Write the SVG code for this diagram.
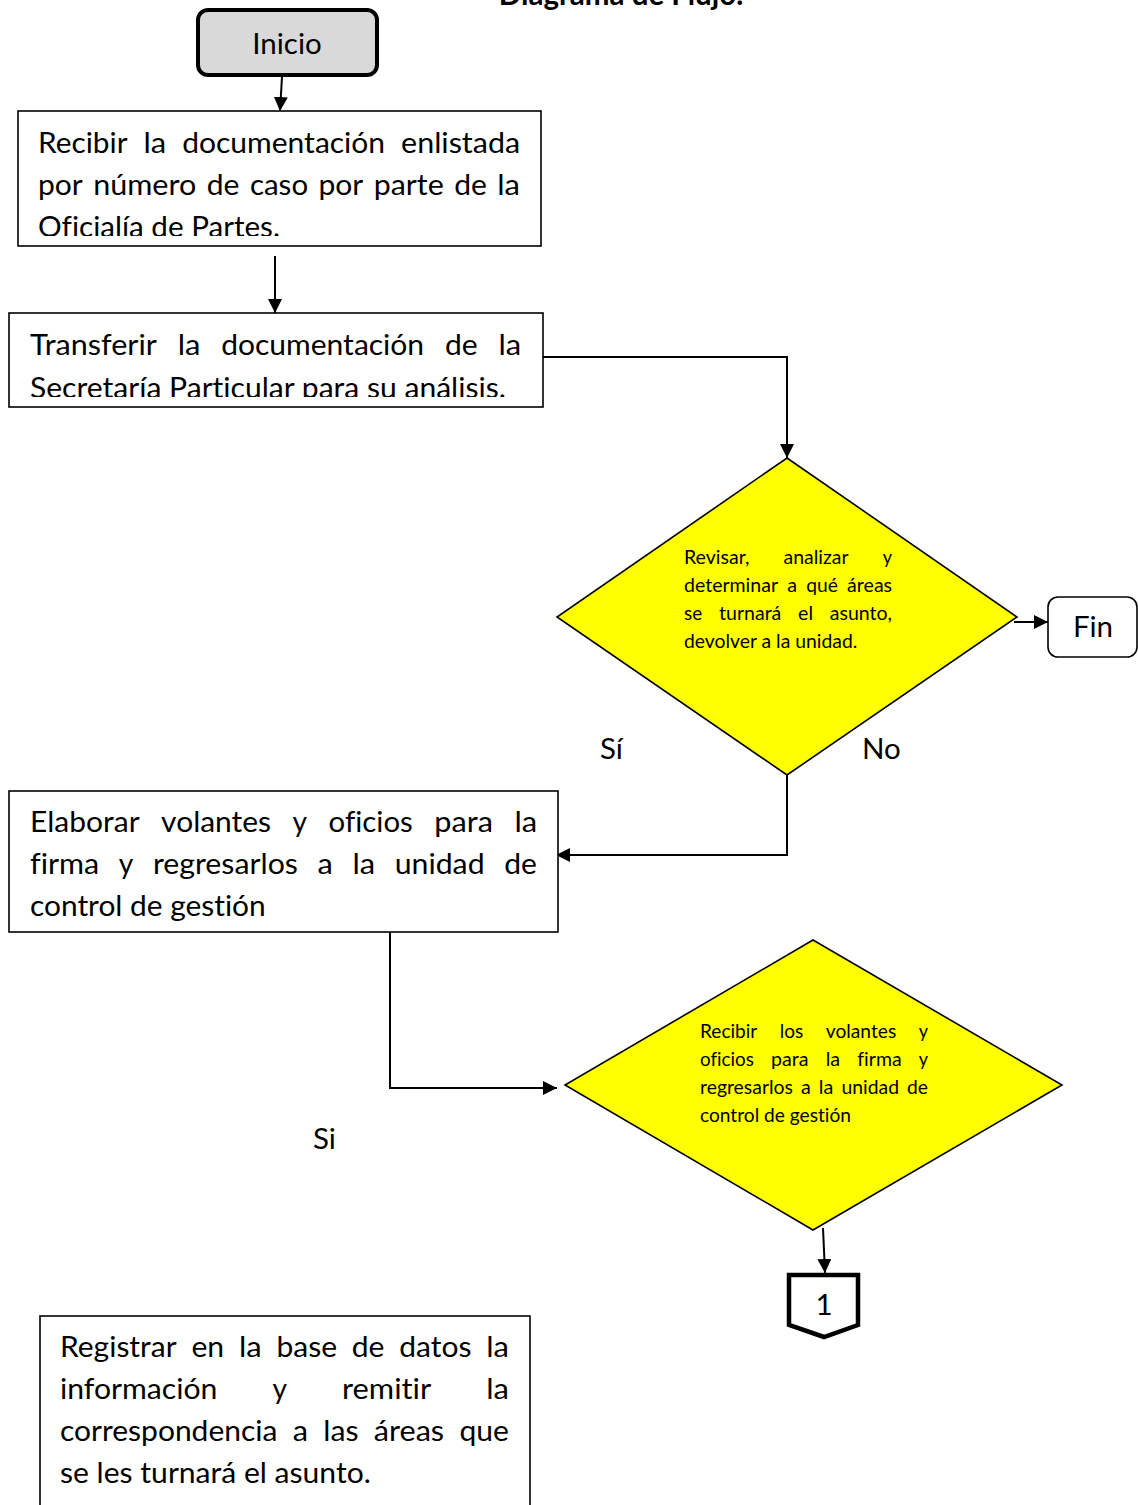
<svg xmlns="http://www.w3.org/2000/svg" width="1138" height="1505" viewBox="0 0 1138 1505">
  <style>
    text { font-variant-ligatures: none; }
    .t { font-family: Lato, "Open Sans", "Liberation Sans", sans-serif; font-size: 29.5px; fill: #000; }
    .dt { font-family: Lato, "Open Sans", "Liberation Sans", sans-serif; font-size: 19px; fill: #000; }
    .box { fill: #fff; stroke: #000; stroke-width: 1.6; }
    .dia { fill: #ffff00; stroke: #000; stroke-width: 1.6; }
    .conn { fill: none; stroke: #000; stroke-width: 2; marker-end: url(#ah); }
  </style>
  <defs>
    <marker id="ah" markerUnits="userSpaceOnUse" markerWidth="14" markerHeight="14" refX="14" refY="7" orient="auto">
      <path d="M0,0 L14,7 L0,14 z" fill="#000"/>
    </marker>
    <clipPath id="clip1"><rect x="18" y="111" width="523" height="125"/></clipPath>
    <clipPath id="clip2"><rect x="9" y="313" width="534" height="84"/></clipPath>
  </defs>

  <rect width="1138" height="1505" fill="#fff"/>

  <!-- title -->
  <text id="title" class="t" x="621" y="5" text-anchor="middle" font-weight="bold">Diagrama de Flujo.</text>

  <!-- connectors -->
  <g id="connectors">
    <path class="conn" d="M282,77 L280,111"/>
    <path class="conn" d="M275,256 L275,313"/>
    <path class="conn" d="M543,357 H787 V458"/>
    <path class="conn" d="M1014,622 H1048"/>
    <path class="conn" d="M787,762 V855 H556"/>
    <path class="conn" d="M390,932 V1088 H557"/>
    <path class="conn" d="M823,1228 L825,1273"/>
  </g>

  <!-- start -->
  <g id="inicio">
    <rect x="198" y="10" width="179" height="65" rx="10" fill="#d9d9d9" stroke="#000" stroke-width="4"/>
    <text class="t" x="287" y="54" text-anchor="middle">Inicio</text>
  </g>

  <!-- step 1 -->
  <g id="recibir">
    <rect class="box" x="18" y="111" width="523" height="135"/>
    <g clip-path="url(#clip1)">
      <text class="t" y="153"><tspan x="38" textLength="89.5" lengthAdjust="spacingAndGlyphs">Recibir</tspan><tspan x="143.5" textLength="22.7" lengthAdjust="spacingAndGlyphs">la</tspan><tspan x="182.2" textLength="202.9" lengthAdjust="spacingAndGlyphs">documentación</tspan><tspan x="401.1" textLength="119" lengthAdjust="spacingAndGlyphs">enlistada</tspan></text>
      <text class="t" y="194.5"><tspan x="38" textLength="44.8" lengthAdjust="spacingAndGlyphs">por</tspan><tspan x="93.2" textLength="103.1" lengthAdjust="spacingAndGlyphs">número</tspan><tspan x="206.7" textLength="32.7" lengthAdjust="spacingAndGlyphs">de</tspan><tspan x="249.9" textLength="58.2" lengthAdjust="spacingAndGlyphs">caso</tspan><tspan x="318.5" textLength="44.8" lengthAdjust="spacingAndGlyphs">por</tspan><tspan x="373.7" textLength="70" lengthAdjust="spacingAndGlyphs">parte</tspan><tspan x="454.2" textLength="32.7" lengthAdjust="spacingAndGlyphs">de</tspan><tspan x="497.3" textLength="22.7" lengthAdjust="spacingAndGlyphs">la</tspan></text>
      <text class="t" x="38" y="237" textLength="241.9" lengthAdjust="spacingAndGlyphs">Oficialía de Partes.</text>
    </g>
  </g>

  <!-- step 2 -->
  <g id="transferir">
    <rect class="box" x="9" y="313" width="534" height="94"/>
    <g clip-path="url(#clip2)">
      <text class="t" y="355"><tspan x="30" textLength="126.9" lengthAdjust="spacingAndGlyphs">Transferir</tspan><tspan x="177.7" textLength="22.7" lengthAdjust="spacingAndGlyphs">la</tspan><tspan x="221.2" textLength="202.9" lengthAdjust="spacingAndGlyphs">documentación</tspan><tspan x="444.9" textLength="32.7" lengthAdjust="spacingAndGlyphs">de</tspan><tspan x="498.4" textLength="22.7" lengthAdjust="spacingAndGlyphs">la</tspan></text>
      <text class="t" x="30" y="398" textLength="475.8" lengthAdjust="spacingAndGlyphs">Secretaría Particular para su análisis.</text>
    </g>
  </g>

  <!-- decision 1 -->
  <g id="revisar">
    <polygon class="dia" points="787,458 1017,617 787,775 557,617"/>
    <text class="dt" y="564"><tspan x="684" textLength="65.4" lengthAdjust="spacingAndGlyphs">Revisar,</tspan><tspan x="783.6" textLength="64.9" lengthAdjust="spacingAndGlyphs">analizar</tspan><tspan x="882.7" textLength="9.3" lengthAdjust="spacingAndGlyphs">y</tspan></text>
    <text class="dt" y="592"><tspan x="684" textLength="94" lengthAdjust="spacingAndGlyphs">determinar</tspan><tspan x="787.2" textLength="9.8" lengthAdjust="spacingAndGlyphs">a</tspan><tspan x="806.2" textLength="31.7" lengthAdjust="spacingAndGlyphs">qué</tspan><tspan x="847.1" textLength="45" lengthAdjust="spacingAndGlyphs">áreas</tspan></text>
    <text class="dt" y="620"><tspan x="684" textLength="18.2" lengthAdjust="spacingAndGlyphs">se</tspan><tspan x="719" textLength="62.3" lengthAdjust="spacingAndGlyphs">turnará</tspan><tspan x="798.1" textLength="14.9" lengthAdjust="spacingAndGlyphs">el</tspan><tspan x="829.8" textLength="62.2" lengthAdjust="spacingAndGlyphs">asunto,</tspan></text>
    <text class="dt" x="684" y="648" textLength="173.3" lengthAdjust="spacingAndGlyphs">devolver a la unidad.</text>
  </g>

  <!-- end -->
  <g id="fin">
    <rect x="1048" y="597" width="89" height="60" rx="10" fill="#fff" stroke="#000" stroke-width="1.6"/>
    <text class="t" x="1093" y="637" text-anchor="middle" font-size="26px">Fin</text>
  </g>

  <!-- branch labels -->
  <g id="labels">
    <text class="t" x="600" y="759" font-size="28px">Sí</text>
    <text class="t" x="862" y="759" font-size="28px">No</text>
    <text class="t" x="313" y="1149" font-size="28px">Si</text>
  </g>

  <!-- step 3 -->
  <g id="elaborar">
    <rect class="box" x="9" y="791" width="549" height="141"/>
    <text class="t" y="832"><tspan x="30" textLength="109.6" lengthAdjust="spacingAndGlyphs">Elaborar</tspan><tspan x="161.1" textLength="110" lengthAdjust="spacingAndGlyphs">volantes</tspan><tspan x="292.6" textLength="14.5" lengthAdjust="spacingAndGlyphs">y</tspan><tspan x="328.6" textLength="84.2" lengthAdjust="spacingAndGlyphs">oficios</tspan><tspan x="434.3" textLength="58.6" lengthAdjust="spacingAndGlyphs">para</tspan><tspan x="514.4" textLength="22.7" lengthAdjust="spacingAndGlyphs">la</tspan></text>
    <text class="t" y="874"><tspan x="30" textLength="69.2" lengthAdjust="spacingAndGlyphs">firma</tspan><tspan x="118.8" textLength="14.5" lengthAdjust="spacingAndGlyphs">y</tspan><tspan x="152.9" textLength="145" lengthAdjust="spacingAndGlyphs">regresarlos</tspan><tspan x="317.5" textLength="15.3" lengthAdjust="spacingAndGlyphs">a</tspan><tspan x="352.4" textLength="22.7" lengthAdjust="spacingAndGlyphs">la</tspan><tspan x="394.7" textLength="89.9" lengthAdjust="spacingAndGlyphs">unidad</tspan><tspan x="504.2" textLength="32.7" lengthAdjust="spacingAndGlyphs">de</tspan></text>
    <text class="t" x="30" y="916" textLength="235.7" lengthAdjust="spacingAndGlyphs">control de gestión</text>
  </g>

  <!-- decision 2 -->
  <g id="recibir-volantes">
    <polygon class="dia" points="813,940 1062,1085 813,1230 565,1085"/>
    <text class="dt" y="1038"><tspan x="700" textLength="57.3" lengthAdjust="spacingAndGlyphs">Recibir</tspan><tspan x="779.8" textLength="23.5" lengthAdjust="spacingAndGlyphs">los</tspan><tspan x="825.8" textLength="70.4" lengthAdjust="spacingAndGlyphs">volantes</tspan><tspan x="918.7" textLength="9.3" lengthAdjust="spacingAndGlyphs">y</tspan></text>
    <text class="dt" y="1066"><tspan x="700" textLength="53.9" lengthAdjust="spacingAndGlyphs">oficios</tspan><tspan x="771" textLength="37.6" lengthAdjust="spacingAndGlyphs">para</tspan><tspan x="825.7" textLength="14.5" lengthAdjust="spacingAndGlyphs">la</tspan><tspan x="857.3" textLength="44.3" lengthAdjust="spacingAndGlyphs">firma</tspan><tspan x="918.7" textLength="9.3" lengthAdjust="spacingAndGlyphs">y</tspan></text>
    <text class="dt" y="1094"><tspan x="700" textLength="92.9" lengthAdjust="spacingAndGlyphs">regresarlos</tspan><tspan x="801" textLength="9.8" lengthAdjust="spacingAndGlyphs">a</tspan><tspan x="818.8" textLength="14.5" lengthAdjust="spacingAndGlyphs">la</tspan><tspan x="841.4" textLength="57.6" lengthAdjust="spacingAndGlyphs">unidad</tspan><tspan x="907" textLength="21" lengthAdjust="spacingAndGlyphs">de</tspan></text>
    <text class="dt" x="700" y="1122" textLength="151" lengthAdjust="spacingAndGlyphs">control de gestión</text>
  </g>

  <!-- off-page connector -->
  <g id="conector-1">
    <polygon points="789,1275 858,1275 858,1325 824,1337 789,1325" fill="#fff" stroke="#000" stroke-width="4.5"/>
    <text class="t" x="824" y="1315" text-anchor="middle" font-size="24px">1</text>
  </g>

  <!-- step 4 -->
  <g id="registrar">
    <rect class="box" x="40" y="1316" width="490" height="200"/>
    <text class="t" y="1357"><tspan x="60" textLength="116.6" lengthAdjust="spacingAndGlyphs">Registrar</tspan><tspan x="191.4" textLength="32.7" lengthAdjust="spacingAndGlyphs">en</tspan><tspan x="238.9" textLength="22.7" lengthAdjust="spacingAndGlyphs">la</tspan><tspan x="276.4" textLength="60.6" lengthAdjust="spacingAndGlyphs">base</tspan><tspan x="351.8" textLength="32.7" lengthAdjust="spacingAndGlyphs">de</tspan><tspan x="399.3" textLength="72.2" lengthAdjust="spacingAndGlyphs">datos</tspan><tspan x="486.3" textLength="22.7" lengthAdjust="spacingAndGlyphs">la</tspan></text>
    <text class="t" y="1399"><tspan x="60" textLength="157.3" lengthAdjust="spacingAndGlyphs">información</tspan><tspan x="272.4" textLength="14.5" lengthAdjust="spacingAndGlyphs">y</tspan><tspan x="342" textLength="89.2" lengthAdjust="spacingAndGlyphs">remitir</tspan><tspan x="486.3" textLength="22.7" lengthAdjust="spacingAndGlyphs">la</tspan></text>
    <text class="t" y="1441"><tspan x="60" textLength="217.4" lengthAdjust="spacingAndGlyphs">correspondencia</tspan><tspan x="292.7" textLength="15.3" lengthAdjust="spacingAndGlyphs">a</tspan><tspan x="323.3" textLength="35.2" lengthAdjust="spacingAndGlyphs">las</tspan><tspan x="373.8" textLength="70.3" lengthAdjust="spacingAndGlyphs">áreas</tspan><tspan x="459.4" textLength="49.5" lengthAdjust="spacingAndGlyphs">que</tspan></text>
    <text class="t" x="60" y="1483" textLength="310.8" lengthAdjust="spacingAndGlyphs">se les turnará el asunto.</text>
  </g>
</svg>
